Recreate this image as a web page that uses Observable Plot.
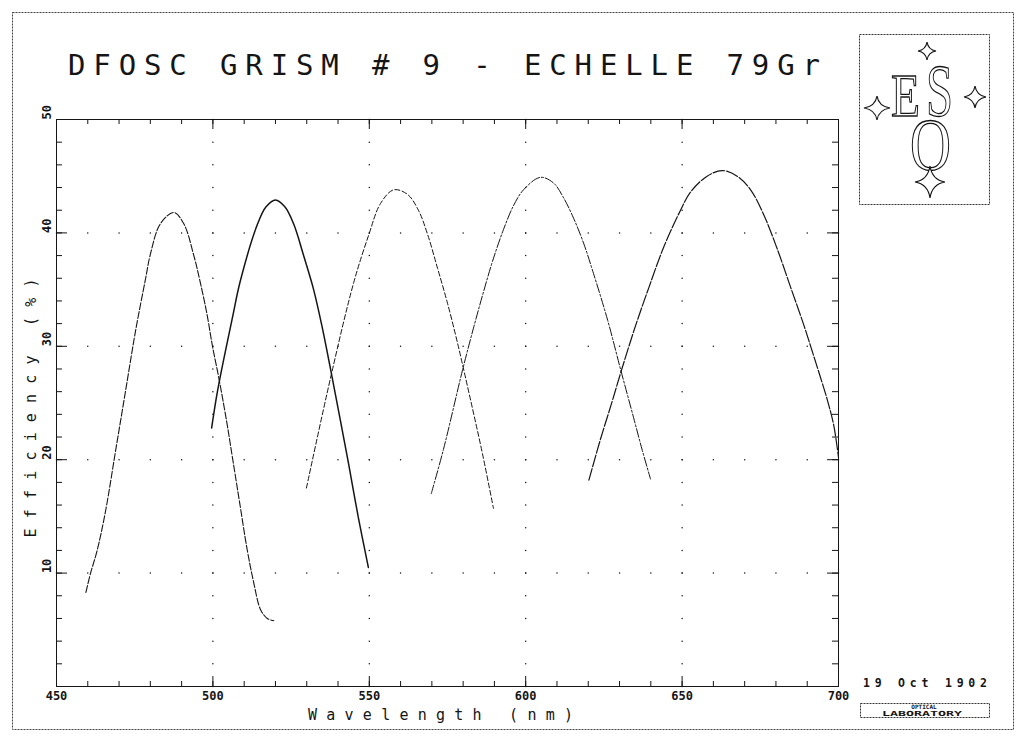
<!DOCTYPE html>
<html>
<head>
<meta charset="utf-8">
<script src="https://cdn.jsdelivr.net/npm/d3@7"></script>
<script src="https://cdn.jsdelivr.net/npm/@observablehq/plot@0.6"></script>
<style>
  html, body { margin: 0; padding: 0; background: #fff; }
  #wrap { position: relative; width: 1024px; height: 743px; overflow: hidden; }
  #wrap > svg { position: absolute; left: 0; top: 0; }
</style>
</head>
<body>
<div id="wrap"></div>
<script>
// ---------- data ----------
const order1Wl  = [459.4, 460.9, 463, 465.7, 468.9, 472.1, 475.3, 478.5, 480, 483.2, 487.5, 490.7, 493.9, 496, 498.2, 499.8, 501.9, 504.5, 506.3, 508.5, 511, 513.1, 515.2, 517.4, 519.5];
const order1Eff = [8.3, 10.0, 12.0, 15.5, 20.8, 26.1, 31.4, 36.0, 38.1, 40.8, 41.8, 40.8, 38.0, 35.6, 32.7, 30.1, 27.2, 23.2, 20.1, 16.3, 12.0, 9.1, 6.8, 6.0, 5.8];

const order2Wl  = [499.6, 501.5, 506.3, 508.8, 514.3, 517, 520, 523, 525.8, 529, 532.2, 535, 537.6, 540.8, 543.4, 546.5, 549.7];
const order2Eff = [22.8, 26.1, 32.6, 35.8, 40.8, 42.3, 42.9, 42.3, 40.8, 38.0, 35.0, 31.6, 28.0, 23.4, 19.6, 14.9, 10.5];

const order3Wl  = [529.9, 537.6, 545, 549.8, 553.6, 557.8, 562.2, 565.7, 568.6, 571.8, 575, 578.2, 579.8, 583, 586.2, 589.7];
const order3Eff = [17.5, 27.2, 35.6, 39.8, 42.6, 43.8, 43.4, 42.0, 39.9, 36.9, 33.8, 30.3, 28.4, 24.5, 20.5, 15.7];

const order4Wl  = [569.8, 573.7, 579.8, 583.3, 586.2, 589.4, 592.9, 596.1, 599.3, 604.7, 608.9, 612.1, 615.3, 618.5, 621.7, 626.2, 630.3, 634.5, 637.3, 639.9];
const order4Eff = [17.0, 20.9, 27.9, 31.6, 34.5, 37.5, 40.3, 42.4, 43.8, 44.9, 44.4, 43.1, 41.3, 39.1, 36.4, 32.3, 28.0, 23.7, 20.8, 18.3];

const order5Wl  = [620.2, 623.9, 627.6, 630.3, 635.1, 639.4, 644.2, 649.5, 652.7, 658, 662.8, 667.6, 671.9, 676.1, 680.4, 684.7, 689, 692.7, 696.4, 698.5, 700];
const order5Eff = [18.2, 21.8, 25.1, 27.6, 31.8, 35.2, 38.8, 42.0, 43.6, 45.0, 45.5, 45.0, 43.8, 41.6, 38.6, 35.2, 31.8, 28.6, 25.3, 23.0, 20.2];

const xTickLabels = [450, 500, 550, 600, 650, 700];
const xMinorTicks = [450, 460, 470, 480, 490, 500, 510, 520, 530, 540, 550, 560, 570, 580, 590, 600, 610, 620, 630, 640, 650, 660, 670, 680, 690, 700];
const yTickLabels = [10, 20, 30, 40, 50];
const yMajorTicks = [0, 10, 20, 30, 40, 50];
const yMinorTicks = [0, 2, 4, 6, 8, 10, 12, 14, 16, 18, 20, 22, 24, 26, 28, 30, 32, 34, 36, 38, 40, 42, 44, 46, 48, 50];
const xGridLines = [500, 550, 600, 650];
const yGridLines = [10, 20, 30, 40];

const titleText = "DFOSC GRISM # 9 - ECHELLE 79Gr";
const xTitle = "Wavelength (nm)";
const yTitle = "Efficiency (%)";
const dateText = "19 Oct 1902";

// ---------- layout ----------
const W = 1024, H = 743;
const mL = 56, mR = 186, mT = 119, mB = 57;
const plotW = W - mL - mR, plotH = H - mT - mB;

const rows = (wl, eff) => wl.map((w, i) => ({wl: w, eff: eff[i]}));
const series = [
  {data: rows(order1Wl, order1Eff), dash: "7,2", sw: 1.1},
  {data: rows(order2Wl, order2Eff), dash: null, sw: 1.5},
  {data: rows(order3Wl, order3Eff), dash: "5,2.5", sw: 1.0},
  {data: rows(order4Wl, order4Eff), dash: "9,2,2,2", sw: 1.0},
  {data: rows(order5Wl, order5Eff), dash: "12,2", sw: 1.2}
];

const gridDots = [
  ...yGridLines.flatMap(y => xMinorTicks.map(x => ({x, y}))),
  ...xGridLines.flatMap(x => yMinorTicks.map(y => ({x, y})))
];

const ink = "#151515";
const mono = "'DejaVu Sans Mono', monospace";

const chart = Plot.plot({
  width: W, height: H,
  marginLeft: mL, marginRight: mR, marginTop: mT, marginBottom: mB,
  x: {domain: [450, 700], axis: null},
  y: {domain: [0, 50], axis: null},
  style: {background: "transparent", fontFamily: mono},
  marks: [
    Plot.dot(gridDots, {x: "x", y: "y", r: 0.75, fill: ink, stroke: null}),
    // inward ticks
    Plot.ruleX(xMinorTicks, {insetTop: plotH - 5, stroke: ink}),
    Plot.ruleX(xMinorTicks, {insetBottom: plotH - 5, stroke: ink}),
    Plot.ruleX(xTickLabels, {insetTop: plotH - 10, stroke: ink}),
    Plot.ruleX(xTickLabels, {insetBottom: plotH - 10, stroke: ink}),
    Plot.ruleY(yMinorTicks, {insetRight: plotW - 6, stroke: ink}),
    Plot.ruleY(yMinorTicks, {insetLeft: plotW - 6, stroke: ink}),
    Plot.ruleY(yMajorTicks, {insetRight: plotW - 11, stroke: ink}),
    Plot.ruleY(yMajorTicks, {insetLeft: plotW - 11, stroke: ink}),
    Plot.frame({stroke: ink, strokeWidth: 1}),
    ...series.map(s => Plot.line(s.data, {
      x: "wl", y: "eff", curve: "catmull-rom",
      stroke: ink, strokeWidth: s.sw, strokeDasharray: s.dash
    })),
    Plot.text(xTickLabels, {x: d => d, text: d => String(d), frameAnchor: "bottom", dy: 5, lineAnchor: "top",
      fontSize: 12, fontWeight: "bold", fill: ink, fontFamily: mono}),
    Plot.text(yTickLabels, {y: d => d, text: d => String(d), frameAnchor: "left", dx: -9, rotate: -90,
      fontSize: 12, fontWeight: "bold", fill: ink, fontFamily: mono})
  ]
});
document.getElementById("wrap").appendChild(chart);

// ---------- decorations overlay (title, frame, logo, labels) ----------
function star(cx, cy, rx, ry) {
  const k = Math.min(rx, ry) * 0.14;
  return `M${cx},${cy - ry} Q${cx + k},${cy - k} ${cx + rx},${cy} Q${cx + k},${cy + k} ${cx},${cy + ry} Q${cx - k},${cy + k} ${cx - rx},${cy} Q${cx - k},${cy - k} ${cx},${cy - ry} Z`;
}
const ns = "http://www.w3.org/2000/svg";
const over = document.createElementNS(ns, "svg");
over.setAttribute("width", W);
over.setAttribute("height", H);
over.setAttribute("viewBox", `0 0 ${W} ${H}`);
over.innerHTML = `
  <rect x="12.5" y="12.5" width="1001" height="717" fill="none" stroke="#444" stroke-width="1" stroke-dasharray="2,1"/>
  <text x="68" y="75" font-family="${mono}" font-size="29" fill="${ink}" textLength="752" lengthAdjust="spacing">${titleText}</text>

  <rect x="859.5" y="34.5" width="130" height="170" fill="none" stroke="#333" stroke-width="1" stroke-dasharray="2,1"/>
  <g font-family="'Liberation Serif', 'DejaVu Serif', serif" fill="#fff" stroke="${ink}" stroke-width="1.3">
    <text x="891" y="116" font-size="62" textLength="29" lengthAdjust="spacingAndGlyphs">E</text>
    <text x="926" y="116" font-size="74" textLength="27" lengthAdjust="spacingAndGlyphs">S</text>
    <text x="910" y="170" font-size="74" textLength="41" lengthAdjust="spacingAndGlyphs">O</text>
  </g>
  <g fill="#fff" stroke="${ink}" stroke-width="1.2">
    <path d="${star(927, 51, 9, 9)}"/>
    <path d="${star(877, 108, 13, 12)}"/>
    <path d="${star(975, 97, 11, 11)}"/>
    <path d="${star(930, 182, 15, 16)}"/>
  </g>

  <text x="863" y="687" font-family="${mono}" font-size="11.5" font-weight="bold" fill="${ink}" textLength="124" lengthAdjust="spacing">${dateText}</text>
  <rect x="860.5" y="703.5" width="129" height="14" fill="none" stroke="#333" stroke-width="1" stroke-dasharray="2,1"/>
  <text x="924" y="709" text-anchor="middle" font-family="${mono}" font-size="6" font-weight="bold" fill="${ink}">OPTICAL</text>
  <text x="922" y="716" text-anchor="middle" font-family="${mono}" font-size="7" font-weight="bold" fill="${ink}" textLength="80" lengthAdjust="spacingAndGlyphs">LABORATORY</text>

  <text x="308" y="720" font-family="${mono}" font-size="15" fill="${ink}" textLength="265" lengthAdjust="spacing">${xTitle}</text>
  <text transform="translate(36,408) rotate(-90)" text-anchor="middle" font-family="${mono}" font-size="15" fill="${ink}" textLength="259" lengthAdjust="spacing">${yTitle}</text>
`;
document.getElementById("wrap").appendChild(over);
</script>
</body>
</html>
